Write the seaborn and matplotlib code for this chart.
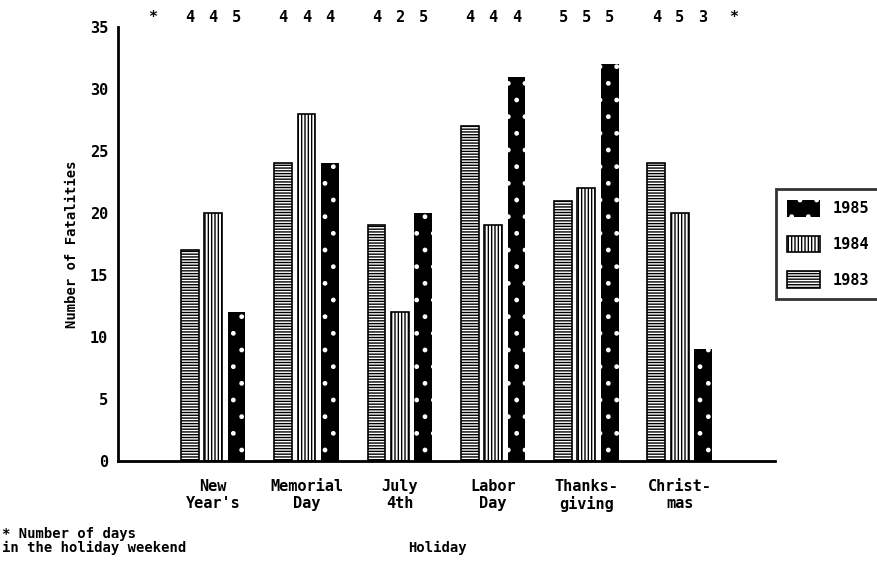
import pandas as pd
import matplotlib.pyplot as plt
import seaborn as sns

holidays = ["New\nYear's", "Memorial\nDay", "July\n4th", "Labor\nDay", "Thanks-\ngiving", "Christ-\nmas"]
years = ["1983", "1984", "1985"]
fatal_1983 = [17, 24, 19, 27, 21, 24]
fatal_1984 = [20, 28, 12, 19, 22, 20]
fatal_1985 = [12, 24, 20, 31, 32, 9]
days_1983 = [4, 4, 4, 4, 5, 4]
days_1984 = [4, 4, 2, 4, 5, 5]
days_1985 = [5, 4, 5, 4, 5, 3]

rows = []
for i, h in enumerate(holidays):
    for y, vals in zip(years, [fatal_1983, fatal_1984, fatal_1985]):
        rows.append({"Holiday": h, "Year": y, "Fatalities": vals[i]})
df = pd.DataFrame(rows)

sns.set_style("white")
plt.rcParams["font.family"] = ["DejaVu Sans Mono", "DejaVu Sans"]
plt.rcParams["font.weight"] = "bold"
plt.rcParams["hatch.linewidth"] = 1.0
plt.rcParams["text.color"] = "black"
plt.rcParams["axes.labelcolor"] = "black"
plt.rcParams["xtick.color"] = "black"
plt.rcParams["ytick.color"] = "black"
plt.rcParams["axes.edgecolor"] = "black"

fig = plt.figure(figsize=(8.77, 5.62), dpi=100)
ax = fig.add_axes([0.1345, 0.18, 0.749, 0.772])

sns.barplot(data=df, x="Holiday", y="Fatalities", hue="Year", order=holidays,
            hue_order=years, width=0.75, gap=0.24, palette=["white", "white", "black"],
            edgecolor="black", linewidth=1.2, ax=ax, legend=False)

hatches = {"1983": "------", "1984": "|||||", "1985": "."}
for cont, y in zip(ax.containers, years):
    for bar in cont:
        bar.set_hatch(hatches[y])
        if y == "1985":
            bar.set_facecolor("black")
            bar.set_edgecolor("white")
            bar.set_linewidth(0)

ax.set_xlim(-1.02, 6.02)
ax.set_ylim(0, 35)
ax.set_yticks(range(0, 36, 5))
ax.set_xticks(list(range(-1, 7)))
ax.set_xticklabels([""] + holidays + [""])
ax.tick_params(axis="x", direction="out", length=9, width=1.5, labelsize=11, pad=4)
ax.tick_params(axis="y", direction="out", length=5, width=1.5, labelsize=11, pad=2)
for s in ["top", "right"]:
    ax.spines[s].set_visible(False)
for s in ["left", "bottom"]:
    ax.spines[s].set_linewidth(2)
ax.set_ylabel("Number of Fatalities", fontsize=10, fontweight="bold", labelpad=8)
ax.set_xlabel("Holiday", fontsize=10, fontweight="bold")
ax.xaxis.set_label_coords(0.486, -0.184)

# days in each holiday weekend, above each bar
offsets = [-0.25, 0, 0.25]
for i in range(len(holidays)):
    for off, d in zip(offsets, [days_1983[i], days_1984[i], days_1985[i]]):
        ax.text(i + off, 1.005, str(d), transform=ax.get_xaxis_transform(),
                ha="center", va="bottom", fontsize=11, fontweight="bold")
ax.text(-0.65, 1.005, "*", transform=ax.get_xaxis_transform(), ha="center",
        va="bottom", fontsize=11, fontweight="bold")
ax.text(5.58, 1.005, "*", transform=ax.get_xaxis_transform(), ha="center",
        va="bottom", fontsize=11, fontweight="bold")

fig.text(0.002, 0.012, "* Number of days\nin the holiday weekend", ha="left",
         va="bottom", fontsize=10, fontweight="bold", linespacing=1.0)

handles = [ax.containers[2][0], ax.containers[1][0], ax.containers[0][0]]
leg = fig.legend(handles, ["1985", "1984", "1983"], loc="upper left",
                 bbox_to_anchor=(0.876, 0.677), frameon=True, fancybox=False,
                 edgecolor="black", fontsize=11, handlelength=2.2, handleheight=1.3,
                 labelspacing=1.25, borderpad=0.7)
leg.get_frame().set_linewidth(2)
leg.get_frame().set_edgecolor("black")

fig.savefig("out.png", dpi=100)
